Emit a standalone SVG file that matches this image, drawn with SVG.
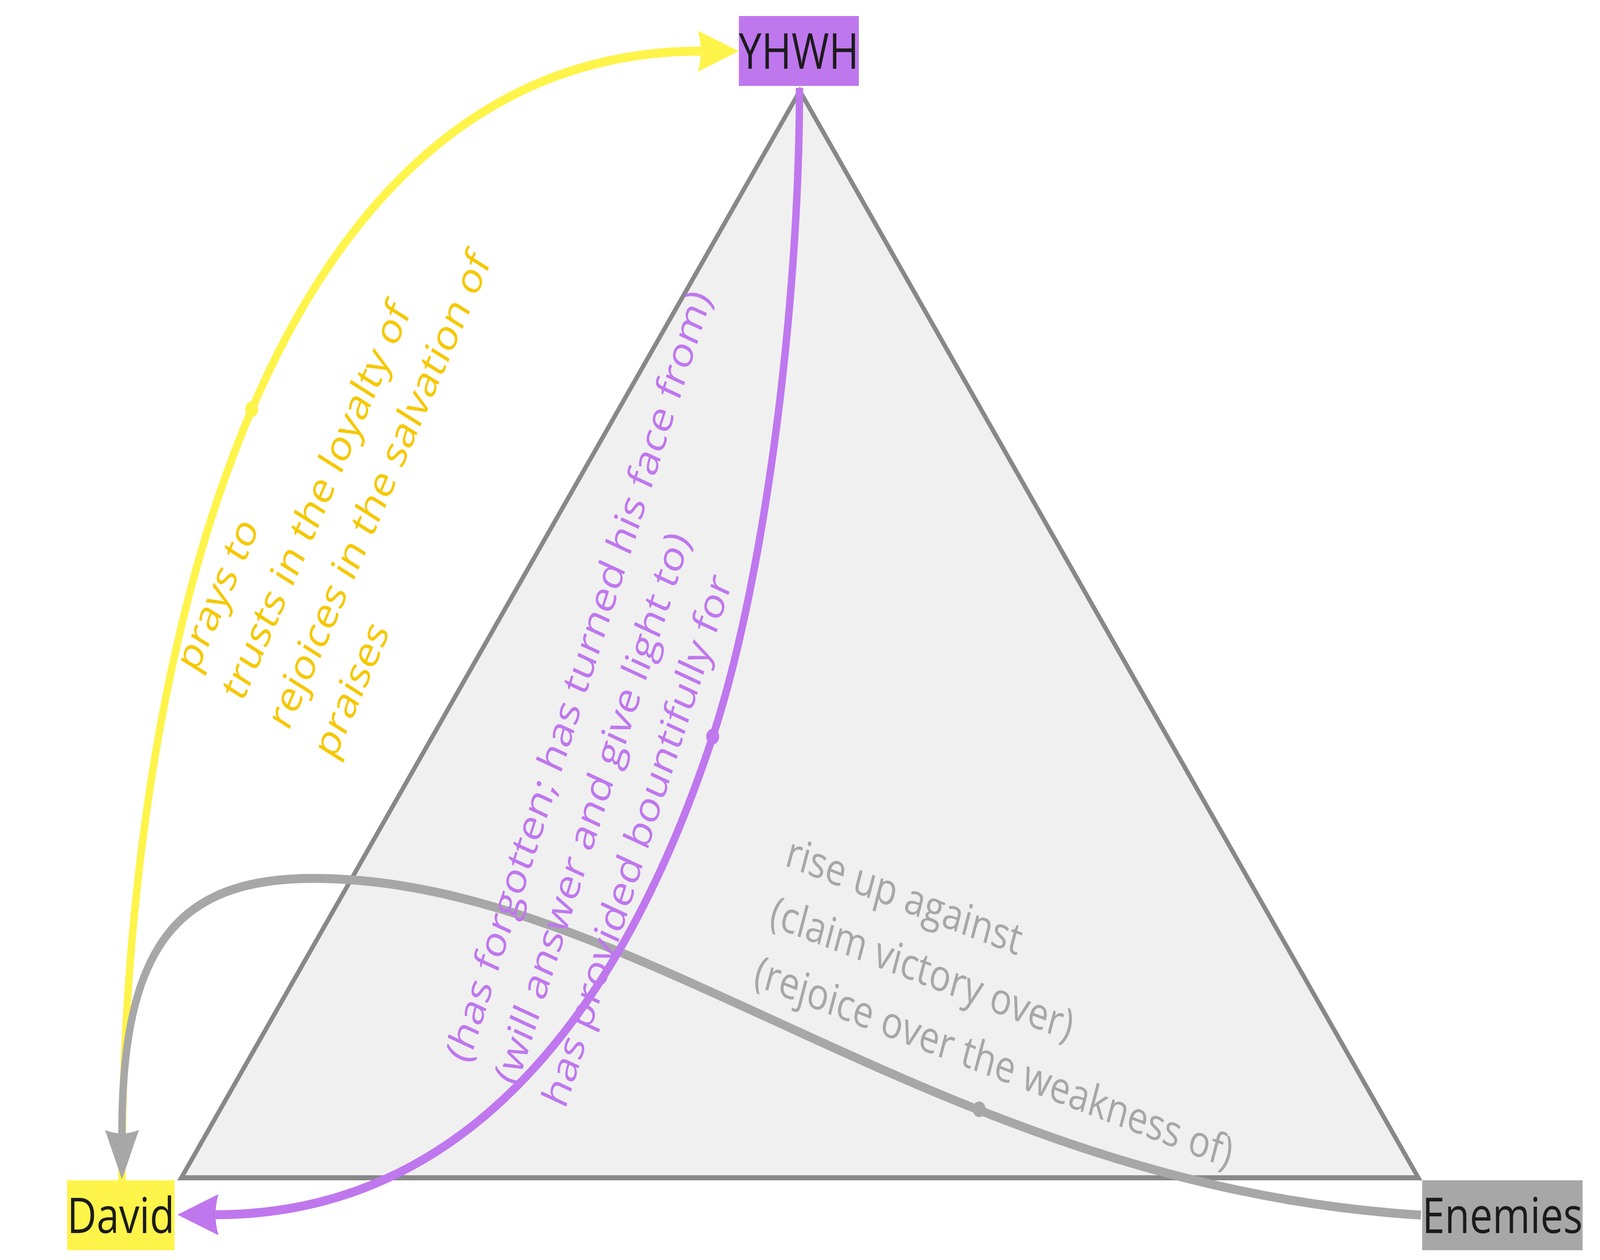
<svg xmlns="http://www.w3.org/2000/svg" width="4959" height="3226" viewBox="0 0 4959 3226" preserveAspectRatio="none">
  <style>
    svg:root { width: 100vw; height: 100vh; }
    .node-text { font-family: 'Open Sans', 'Noto Sans', sans-serif; font-size: 126px; fill: #1c1b1c; text-anchor: middle; }
    .label { font-family: 'Open Sans', 'Noto Sans', sans-serif; font-size: 112px; }
    .edge { fill: none; stroke-width: 23; }
  </style>
  <defs>
    <marker id="arrow-yellow" markerUnits="userSpaceOnUse" viewBox="0 -56 130 112" markerWidth="130" markerHeight="112" refX="9" refY="0" orient="auto">
      <path d="M0,-52.5 L127,0 L0,52.5 Q18,0 0,-52.5 Z" fill="#fff44a"/>
    </marker>
    <marker id="arrow-gray" markerUnits="userSpaceOnUse" viewBox="0 -56 130 112" markerWidth="130" markerHeight="112" refX="9" refY="0" orient="auto">
      <path d="M0,-52.5 L127,0 L0,52.5 Q18,0 0,-52.5 Z" fill="#a8a7a8"/>
    </marker>
    <marker id="arrow-purple" markerUnits="userSpaceOnUse" viewBox="0 -56 130 112" markerWidth="130" markerHeight="112" refX="9" refY="0" orient="auto">
      <path d="M0,-52.5 L127,0 L0,52.5 Q18,0 0,-52.5 Z" fill="#bf77ee"/>
    </marker>
  </defs>
  <rect x="0" y="0" width="4959" height="3226" fill="#ffffff"/>

  <g id="triangle">
    <polygon points="2479,233 562,3015.5 4396,3015.5" fill="#f0f0f0" stroke="#888888" stroke-width="13"/>
  </g>

  <g id="connectors">
    <path id="edge-david-yhwh" class="edge" stroke="#fff44a" d="M378,3022 C378,1613 853,131 2172,131" marker-end="url(#arrow-yellow)"/>
    <circle cx="780" cy="1048" r="20" fill="#fff44a"/>
    <path id="edge-enemies-david" class="edge" stroke="#a8a7a8" d="M4404,3111 C2906,3036 1974,2249 970,2249 C550,2249 378,2422 378,2902" marker-end="url(#arrow-gray)"/>
    <circle cx="3035" cy="2840" r="20" fill="#a8a7a8"/>
    <path id="edge-yhwh-david" class="edge" stroke="#bf77ee" d="M2478,225 C2478,785 2368,1488 2209,1886 C1968,2489 1518,3110 668,3110" marker-end="url(#arrow-purple)"/>
    <circle cx="2209" cy="1886" r="20" fill="#bf77ee"/>

    <text class="label" fill="#f6c800" transform="translate(609,1726) rotate(-62.4)">
      <tspan x="0" y="0">prays to</tspan>
      <tspan x="0" dy="160.5">trusts in the loyalty of</tspan>
      <tspan x="0" dy="160.5">rejoices in the salvation of</tspan>
      <tspan x="0" dy="160.5">praises</tspan>
    </text>
    <text class="label" fill="#bf77ee" transform="translate(1452,2727) rotate(-69)">
      <tspan x="0" y="0">(has forgotten; has turned his face from)</tspan>
      <tspan x="0" dy="160.5">(will answer and give light to)</tspan>
      <tspan x="0" dy="160.5">has provided bountifully for</tspan>
    </text>
    <text class="label" fill="#a8a7a8" transform="translate(2429,2215) rotate(17.7)">
      <tspan x="0" y="0">rise up against</tspan>
      <tspan x="0" dy="160.5">(claim victory over)</tspan>
      <tspan x="0" dy="160.5">(rejoice over the weakness of)</tspan>
    </text>
  </g>

  <g id="node-yhwh">
    <rect x="2290" y="41" width="372" height="179" fill="#bf77ee"/>
    <text class="node-text" x="2476" y="176">YHWH</text>
  </g>
  <g id="node-david">
    <rect x="208" y="3022" width="333" height="179" fill="#fff44a"/>
    <text class="node-text" x="374.5" y="3157">David</text>
  </g>
  <g id="node-enemies">
    <rect x="4408" y="3022" width="497" height="179" fill="#a8a7a8"/>
    <text class="node-text" x="4656.5" y="3157">Enemies</text>
  </g>
</svg>
